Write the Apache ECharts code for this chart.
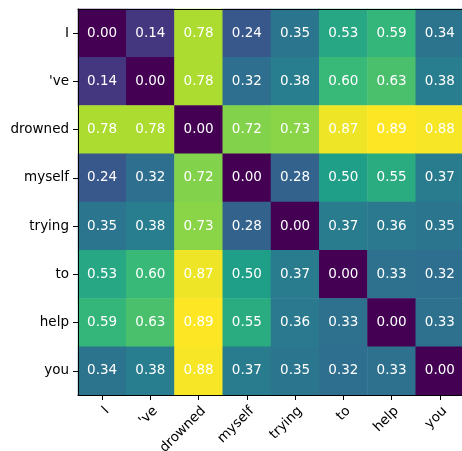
<!DOCTYPE html>
<html>
<head>
<meta charset="utf-8">
<script src="https://cdn.jsdelivr.net/npm/echarts@6/dist/echarts.min.js"></script>
<style>html,body{margin:0;padding:0;background:#fff;}#c{width:462px;height:451px;}</style>
</head>
<body>
<div id="c"></div>
<script>
const xLabels = ["I", "'ve", "drowned", "myself", "trying", "to", "help", "you"];
const yLabels = ["I", "'ve", "drowned", "myself", "trying", "to", "help", "you"];
const rowI       = [0.00, 0.14, 0.78, 0.24, 0.35, 0.53, 0.59, 0.34];
const rowVe      = [0.14, 0.00, 0.78, 0.32, 0.38, 0.60, 0.63, 0.38];
const rowDrowned = [0.78, 0.78, 0.00, 0.72, 0.73, 0.87, 0.89, 0.88];
const rowMyself  = [0.24, 0.32, 0.72, 0.00, 0.28, 0.50, 0.55, 0.37];
const rowTrying  = [0.35, 0.38, 0.73, 0.28, 0.00, 0.37, 0.36, 0.35];
const rowTo      = [0.53, 0.60, 0.87, 0.50, 0.37, 0.00, 0.33, 0.32];
const rowHelp    = [0.59, 0.63, 0.89, 0.55, 0.36, 0.33, 0.00, 0.33];
const rowYou     = [0.34, 0.38, 0.88, 0.37, 0.35, 0.32, 0.33, 0.00];
const rows = [rowI, rowVe, rowDrowned, rowMyself, rowTrying, rowTo, rowHelp, rowYou];

const viridis = ['#440154','#482878','#3e4a89','#31688e','#26828e','#1f9e89','#35b779','#6ece58','#b5de2b','#fde725'];

const data = [];
rows.forEach((r, yi) => r.forEach((v, xi) => data.push([xi, yi, v])));
let vmax = 0;
rows.forEach(r => r.forEach(v => { if (v > vmax) vmax = v; }));

const font = 'DejaVu Sans';
const fs = 13.5;
const chart = echarts.init(document.getElementById('c'), null, {renderer: 'canvas'});
chart.setOption({
  animation: false,
  backgroundColor: '#fff',
  grid: {left: 78, top: 9, width: 386, height: 386, containLabel: false, outerBoundsMode: 'none'},
  xAxis: [{
    type: 'category', data: xLabels, position: 'bottom',
    axisLine: {show: true, lineStyle: {color: '#000', width: 1}},
    axisTick: {show: true, alignWithLabel: true, length: 5, lineStyle: {color: '#000'}},
    axisLabel: {rotate: 45, margin: 9, verticalAlign: 'top', color: '#000', fontFamily: font, fontSize: fs, interval: 0},
    splitLine: {show: false}, z: 10
  }, {
    type: 'category', data: xLabels, position: 'top',
    axisLine: {show: true, lineStyle: {color: '#000', width: 1}},
    axisTick: {show: false}, axisLabel: {show: false}, z: 10
  }],
  yAxis: [{
    type: 'category', data: yLabels, inverse: true, position: 'left',
    axisLine: {show: true, lineStyle: {color: '#000', width: 1}},
    axisTick: {show: true, alignWithLabel: true, length: 5, lineStyle: {color: '#000'}},
    axisLabel: {margin: 9, color: '#000', fontFamily: font, fontSize: fs, interval: 0},
    splitLine: {show: false}, z: 10
  }, {
    type: 'category', data: yLabels, inverse: true, position: 'right',
    axisLine: {show: true, lineStyle: {color: '#000', width: 1}},
    axisTick: {show: false}, axisLabel: {show: false}, z: 10
  }],
  visualMap: {show: false, min: 0, max: vmax, dimension: 2, inRange: {color: viridis}},
  series: [{
    type: 'heatmap', data: data,
    label: {show: true, color: '#fff', fontFamily: font, fontSize: fs,
      formatter: p => p.value[2].toFixed(2)},
    itemStyle: {borderWidth: 0},
    emphasis: {disabled: true}
  }]
});
</script>
</body>
</html>
